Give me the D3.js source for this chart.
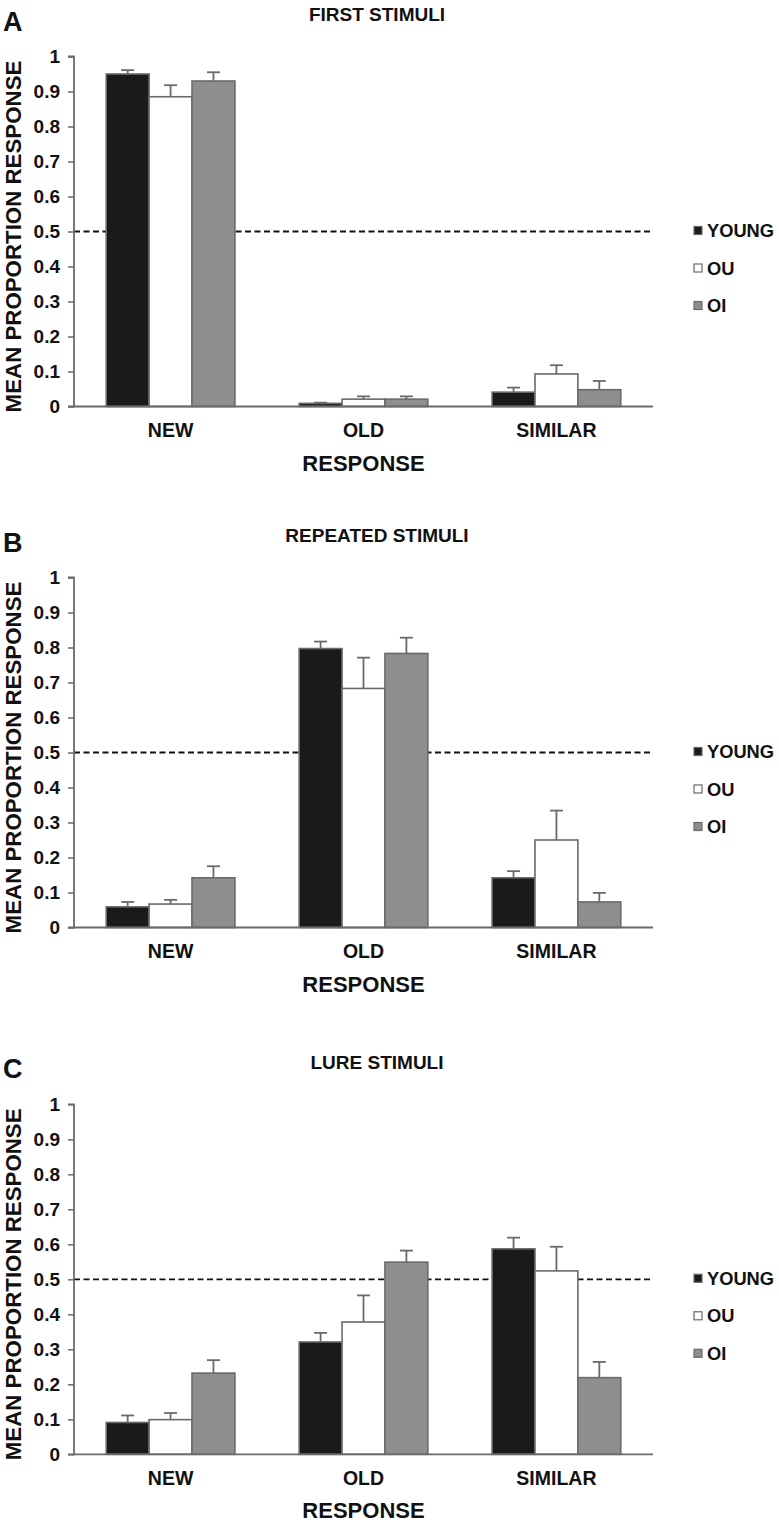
<!DOCTYPE html>
<html>
<head>
<meta charset="utf-8">
<script src="https://cdn.jsdelivr.net/npm/d3@7"></script>
<style>
  html, body { margin: 0; padding: 0; background: #fff; }
  svg { display: block; font-family: "Liberation Sans", Arial, Helvetica, sans-serif; font-weight: bold; }
</style>
</head>
<body>
<svg id="chart" width="779" height="1524"></svg>
<script>
// ---- data ----
const categories = ["NEW", "OLD", "SIMILAR"];
const groups = ["YOUNG", "OU", "OI"];
const panelLetters = ["A", "B", "C"];
const panelTitles = ["FIRST STIMULI", "REPEATED STIMULI", "LURE STIMULI"];
const yTicks = [0, 0.1, 0.2, 0.3, 0.4, 0.5, 0.6, 0.7, 0.8, 0.9, 1];
const referenceLine = 0.5;

// Panel A (first stimuli): mean values per group across NEW, OLD, SIMILAR
const firstYoung = [0.95, 0.009, 0.041];
const firstOU    = [0.885, 0.021, 0.093];
const firstOI    = [0.93, 0.021, 0.048];
const firstYoungErr = [0.011, 0.002, 0.013];
const firstOUErr    = [0.033, 0.008, 0.025];
const firstOIErr    = [0.025, 0.008, 0.025];

// Panel B (repeated stimuli)
const repYoung = [0.059, 0.797, 0.142];
const repOU    = [0.067, 0.683, 0.25];
const repOI    = [0.142, 0.783, 0.073];
const repYoungErr = [0.014, 0.02, 0.019];
const repOUErr    = [0.012, 0.088, 0.084];
const repOIErr    = [0.033, 0.045, 0.026];

// Panel C (lure stimuli)
const lureYoung = [0.091, 0.321, 0.587];
const lureOU    = [0.099, 0.378, 0.524];
const lureOI    = [0.232, 0.549, 0.219];
const lureYoungErr = [0.02, 0.026, 0.032];
const lureOUErr    = [0.019, 0.076, 0.069];
const lureOIErr    = [0.037, 0.033, 0.045];

const panelValues = [[firstYoung, firstOU, firstOI], [repYoung, repOU, repOI], [lureYoung, lureOU, lureOI]];
const panelErrors = [[firstYoungErr, firstOUErr, firstOIErr], [repYoungErr, repOUErr, repOIErr], [lureYoungErr, lureOUErr, lureOIErr]];

// ---- layout / style ----
const fills = { YOUNG: "#1a1a1a", OU: "#ffffff", OI: "#8e8e8e" };
const strokeGray = "#6a6a6a";
const panelTops = [56.5, 577.5, 1104.3];
const plotH = 350;
const xLeft = 74, xRight = 653;

const svg = d3.select("#chart");

const x0 = d3.scaleBand().domain(categories).range([xLeft, xRight]).paddingInner(0.333).paddingOuter(0.167);
const x1 = d3.scaleBand().domain(groups).range([0, x0.bandwidth()]).padding(0);

panelTops.forEach((top, p) => {
  const y = d3.scaleLinear().domain([0, 1]).range([top + plotH, top]);
  const g = svg.append("g");

  // panel letter and title
  g.append("text").attr("x", 3).attr("y", top - 26)
    .attr("font-size", 27).attr("fill", "#111").text(panelLetters[p]);
  g.append("text").attr("x", 377).attr("y", top - 35.5)
    .attr("text-anchor", "middle").attr("font-size", 19).attr("fill", "#111").text(panelTitles[p]);

  // reference dashed line
  g.append("line")
    .attr("x1", xLeft).attr("x2", xRight)
    .attr("y1", y(referenceLine)).attr("y2", y(referenceLine))
    .attr("stroke", "#111").attr("stroke-width", 1.8).attr("stroke-dasharray", "6,3.5");

  // bars
  groups.forEach((grp, gi) => {
    const vals = panelValues[p][gi];
    const errs = panelErrors[p][gi];
    const data = categories.map((c, ci) => ({ c, v: vals[ci], e: errs[ci] }));
    const bg = g.append("g");
    // error bars (upper only)
    bg.selectAll("line.err").data(data).join("line")
      .attr("x1", d => x0(d.c) + x1(grp) + x1.bandwidth() / 2)
      .attr("x2", d => x0(d.c) + x1(grp) + x1.bandwidth() / 2)
      .attr("y1", d => y(d.v)).attr("y2", d => y(d.v + d.e))
      .attr("stroke", strokeGray).attr("stroke-width", 1.8);
    bg.selectAll("line.cap").data(data).join("line")
      .attr("x1", d => x0(d.c) + x1(grp) + x1.bandwidth() / 2 - 6.5)
      .attr("x2", d => x0(d.c) + x1(grp) + x1.bandwidth() / 2 + 6.5)
      .attr("y1", d => y(d.v + d.e)).attr("y2", d => y(d.v + d.e))
      .attr("stroke", strokeGray).attr("stroke-width", 1.8);
    bg.selectAll("rect").data(data).join("rect")
      .attr("x", d => x0(d.c) + x1(grp))
      .attr("width", x1.bandwidth())
      .attr("y", d => y(d.v))
      .attr("height", d => y(0) - y(d.v))
      .attr("fill", fills[grp])
      .attr("stroke", strokeGray).attr("stroke-width", 1.6);
  });

  // y axis
  const yAxis = d3.axisLeft(y).tickValues(yTicks).tickFormat(d3.format("~g")).tickSize(6).tickPadding(8);
  const ya = g.append("g").attr("transform", `translate(${xLeft},0)`).call(yAxis);
  ya.select(".domain").attr("stroke", strokeGray).attr("stroke-width", 1.8).attr("d", `M-6,${y(1)}H0V${y(0)}H-6`);
  ya.selectAll(".tick line").attr("stroke", strokeGray).attr("stroke-width", 1.5);
  ya.selectAll(".tick text").attr("font-size", 19).attr("font-weight", "bold")
    .attr("font-family", '"Liberation Sans", Arial, sans-serif').attr("fill", "#111");

  // x axis
  const xAxis = d3.axisBottom(x0).tickSize(0).tickPadding(17);
  const xa = g.append("g").attr("transform", `translate(0,${y(0)})`).call(xAxis);
  xa.select(".domain").attr("stroke", strokeGray).attr("stroke-width", 1.8).attr("d", `M${xLeft},0H${xRight}`);
  xa.selectAll(".tick text").attr("font-size", 19.5).attr("font-weight", "bold")
    .attr("font-family", '"Liberation Sans", Arial, sans-serif').attr("fill", "#111");

  // axis titles
  g.append("text").attr("x", 363.5).attr("y", y(0) + 64)
    .attr("text-anchor", "middle").attr("font-size", 22).attr("fill", "#111").text("RESPONSE");
  g.append("text")
    .attr("transform", `translate(21,${(y(0) + y(1)) / 2 + 5}) rotate(-90)`)
    .attr("text-anchor", "middle").attr("font-size", 22.3).attr("fill", "#111").text("MEAN PROPORTION RESPONSE");

  // legend
  groups.forEach((grp, gi) => {
    const cy = y(referenceLine) - 1 + gi * 37.5;
    g.append("rect").attr("x", 694).attr("y", cy - 4).attr("width", 8).attr("height", 8)
      .attr("fill", fills[grp]).attr("stroke", strokeGray).attr("stroke-width", 1.2);
    g.append("text").attr("x", 707).attr("y", cy + 6.5)
      .attr("font-size", 18.3).attr("fill", "#111").text(grp);
  });
});
</script>
</body>
</html>
